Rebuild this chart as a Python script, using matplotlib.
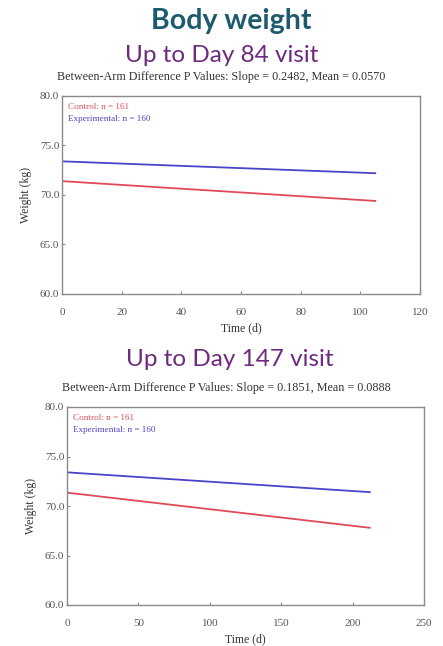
import matplotlib
matplotlib.use("Agg")
import matplotlib.pyplot as plt

# === data ===
t_84 = [0, 105]
ctrl_84 = [71.4, 69.4]
expt_84 = [73.4, 72.2]

t_147 = [0, 212]
ctrl_147 = [71.35, 67.8]
expt_147 = [73.4, 71.4]

xticks_84 = [0, 20, 40, 60, 80, 100, 120]
xticks_147 = [0, 50, 100, 150, 200, 250]
yticks = [60, 65, 70, 75, 80]

pvals_84 = "Between-Arm Difference P Values: Slope = 0.2482, Mean = 0.0570"
pvals_147 = "Between-Arm Difference P Values: Slope = 0.1851, Mean = 0.0888"
n_ctrl, n_expt = 161, 160

# === cfg ===
W, H = 443, 646
RED = '#e04a58'
BLUE = '#4a44c8'
GREY = '#8a8a8a'
SERIF = 'Liberation Serif'
TITLE_FONT = ['Lato', 'DejaVu Sans']

fig = plt.figure(figsize=(W / 100, H / 100), dpi=100)
fig.patch.set_facecolor('white')


def px(x, y):
    # pixel (from top-left) -> figure fraction
    return x / W, 1 - y / H


def panel(left, top, right, bottom, t, ctrl, expt, xticks, xmax):
    ax = fig.add_axes([left / W, 1 - bottom / H, (right - left) / W, (bottom - top) / H])
    ax.plot(t, ctrl, color=RED, lw=1.3)
    ax.plot(t, expt, color=BLUE, lw=1.3)
    ax.set_xlim(0, xmax)
    ax.set_ylim(60, 80)
    ax.set_xticks(xticks)
    ax.set_yticks(yticks)
    ax.set_yticklabels([f"{v:.1f}" for v in yticks])
    ax.tick_params(direction='in', length=2, color=GREY, labelsize=8,
                   labelcolor='#555555')
    ax.tick_params(axis='x', pad=10)
    ax.tick_params(axis='y', pad=2)
    for lab in ax.get_xticklabels() + ax.get_yticklabels():
        lab.set_family(SERIF)
    for s in ax.spines.values():
        s.set_color(GREY)
        s.set_linewidth(1.0)
    ax.set_xlabel("Time (d)", family=SERIF, fontsize=8.5, color='#333333', labelpad=4)
    ax.set_ylabel("Weight (kg)", family=SERIF, fontsize=8.5, color='#333333', labelpad=6)
    ax.text(0.017, 0.965, f"Control: n = {n_ctrl}", transform=ax.transAxes,
            color=RED, fontsize=6.6, family=SERIF, va='top')
    ax.text(0.017, 0.905, f"Experimental: n = {n_expt}", transform=ax.transAxes,
            color=BLUE, fontsize=6.6, family=SERIF, va='top')
    return ax


# --- titles ---
fig.text(*px(231, 21), "Body weight", ha='center', va='center', fontsize=20.5,
         fontweight='bold', color='#1e5a6e', family=TITLE_FONT)
fig.text(*px(222, 55), "Up to Day 84 visit", ha='center', va='center', fontsize=17.5,
         color='#6e2a7e', family=TITLE_FONT)
fig.text(*px(221, 77), pvals_84, ha='center', va='center', fontsize=8.7,
         color='#333333', family=SERIF)

panel(62, 96, 420, 294, t_84, ctrl_84, expt_84, xticks_84, 120)

fig.text(*px(230, 359), "Up to Day 147 visit", ha='center', va='center', fontsize=17.5,
         color='#6e2a7e', family=TITLE_FONT)
fig.text(*px(226, 388), pvals_147, ha='center', va='center', fontsize=8.7,
         color='#333333', family=SERIF)

panel(67, 407, 424, 605, t_147, ctrl_147, expt_147, xticks_147, 250)

fig.savefig("out.png", dpi=100, facecolor='white')
